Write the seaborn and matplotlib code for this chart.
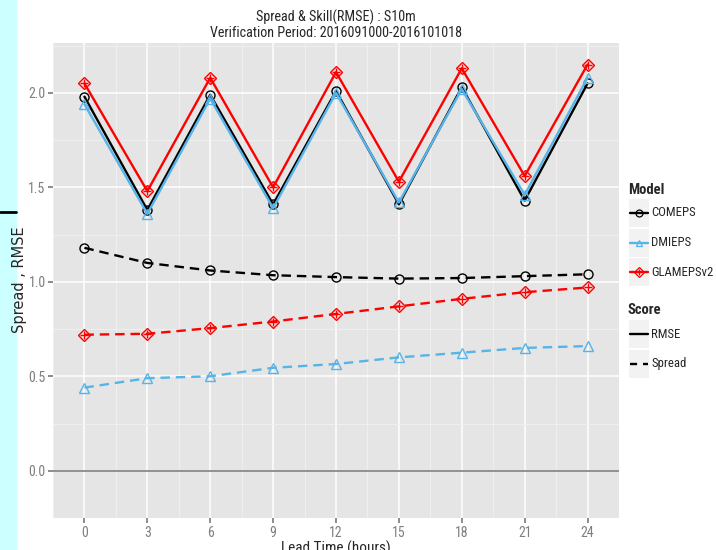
"""
Spread & Skill (RMSE) for S10m - ggplot style recreation
"""
import pandas as pd
import matplotlib
matplotlib.use("Agg")
import matplotlib.pyplot as plt
from matplotlib import font_manager
from matplotlib.lines import Line2D
from matplotlib.patches import Rectangle
import seaborn as sns

LEAD = [0, 3, 6, 9, 12, 15, 18, 21, 24]
MODELS = ["COMEPS", "DMIEPS", "GLAMEPSv2"]
SCORES = ["RMSE", "Spread"]

RMSE_COMEPS = [1.98, 1.38, 1.99, 1.41, 2.01, 1.41, 2.03, 1.43, 2.05]
RMSE_DMIEPS = [1.94, 1.36, 1.97, 1.39, 2.00, 1.42, 2.02, 1.46, 2.08]
RMSE_GLAMEPS = [2.05, 1.48, 2.08, 1.50, 2.11, 1.53, 2.13, 1.56, 2.15]

SPREAD_COMEPS = [1.18, 1.10, 1.06, 1.035, 1.025, 1.017, 1.02, 1.03, 1.04]
SPREAD_DMIEPS = [0.44, 0.49, 0.50, 0.545, 0.565, 0.60, 0.625, 0.65, 0.66]
SPREAD_GLAMEPS = [0.72, 0.725, 0.755, 0.79, 0.83, 0.87, 0.91, 0.945, 0.97]

COLORS = {"COMEPS": "#000000", "DMIEPS": "#56B4E9", "GLAMEPSv2": "#FF0000"}
MARKERS = {"COMEPS": "o", "DMIEPS": "^", "GLAMEPSv2": "D"}
DASHES = {"RMSE": "", "Spread": (4, 2.5)}

W, H = 716, 550


def fx(px):
    return px / W


def fy(py):
    return 1 - py / H


def pick_font():
    # look for a narrow sans (the original was drawn in Helvetica Narrow-ish)
    names = {f.name for f in font_manager.fontManager.ttflist}
    for cand in ["Liberation Sans Narrow", "Roboto Condensed", "Open Sans Condensed",
                 "Arial Narrow", "Nimbus Sans Narrow"]:
        if cand in names:
            return cand, True
    return "Liberation Sans", False


def build_df():
    vals = {
        ("COMEPS", "RMSE"): RMSE_COMEPS, ("DMIEPS", "RMSE"): RMSE_DMIEPS,
        ("GLAMEPSv2", "RMSE"): RMSE_GLAMEPS, ("COMEPS", "Spread"): SPREAD_COMEPS,
        ("DMIEPS", "Spread"): SPREAD_DMIEPS, ("GLAMEPSv2", "Spread"): SPREAD_GLAMEPS,
    }
    rows = []
    for (m, s), v in vals.items():
        for lt, y in zip(LEAD, v):
            rows.append({"lead": lt, "value": y, "Model": m, "Score": s})
    return pd.DataFrame(rows)


def plot(df):
    sns.set_theme(style="darkgrid")
    font, narrow = pick_font()
    plt.rcParams["font.family"] = [font, "DejaVu Sans"]
    k = 1.0 if narrow else 0.85   # shrink text a bit when no narrow face exists

    fig = plt.figure(figsize=(W / 100, H / 100), dpi=100)
    fig.patch.set_facecolor("white")
    ax = fig.add_axes([fx(53), fy(518), fx(619) - fx(53), fy(43) - fy(518)])
    ax.set_facecolor("#E5E5E5")

    for m in MODELS:
        sub = df[df["Model"] == m]
        sns.lineplot(data=sub, x="lead", y="value", style="Score", dashes=DASHES,
                     color=COLORS[m], marker=MARKERS[m], markersize=6.5 if m != "DMIEPS" else 7,
                     mfc="none", mec=COLORS[m], mew=1.0, linewidth=1.7,
                     legend=False, ax=ax, zorder=3)
    glam = df[df["Model"] == "GLAMEPSv2"]
    sns.scatterplot(data=glam, x="lead", y="value", marker="+", color=COLORS["GLAMEPSv2"],
                    s=40, linewidth=1.0, legend=False, ax=ax, zorder=4)

    ax.axhline(0, color="#7F7F7F", lw=1.2, zorder=2)

    ax.set_xlim(-1.21, 25.2)
    ax.set_ylim(-0.105, 2.264)
    ax.set_xticks(LEAD)
    ax.set_xticks([1.5 + 3 * i for i in range(-1, 9)], minor=True)
    ax.set_yticks([0.0, 0.5, 1.0, 1.5, 2.0])
    ax.set_yticks([-0.25, 0.25, 0.75, 1.25, 1.75, 2.25], minor=True)
    ax.set_yticklabels(["0.0", "0.5", "1.0", "1.5", "2.0"])
    ax.grid(which="major", color="white", lw=1.1)
    ax.grid(which="minor", color="#F2F2F2", lw=0.6)
    for sp in ax.spines.values():
        sp.set_visible(False)
    ax.tick_params(which="major", length=3.5, color="#7F7F7F", labelsize=10 * k,
                   labelcolor="#7F7F7F", pad=1.8)
    ax.tick_params(axis="x", which="major", pad=2.5)
    ax.tick_params(which="minor", length=0)
    ax.tick_params(axis="both", which="major", left=True, bottom=True)

    ax.set_xlabel("Lead Time (hours)", fontsize=11 * k)
    ax.xaxis.set_label_coords(0.5, -0.048, transform=ax.transAxes)
    ax.xaxis.label.set_va("top")
    ax.set_ylabel("Spread , RMSE", fontsize=10.5, family="DejaVu Sans")
    ax.yaxis.set_label_coords(fx(27), fy(280), transform=fig.transFigure)
    fig.text(fx(336), fy(17), "Spread & Skill(RMSE) : S10m", fontsize=10.2 * k,
             ha="center", va="center")
    fig.text(fx(336), fy(33), "Verification Period: 2016091000-2016101018",
             fontsize=10.2 * k, ha="center", va="center")

    # left cyan strip and black mark
    fig.add_artist(Rectangle((0, 0), fx(16), 1, transform=fig.transFigure,
                             color="#CCFFFF", zorder=0))
    fig.add_artist(Line2D([0, fx(16)], [fy(212), fy(212)], transform=fig.transFigure,
                          color="black", lw=2))

    # manual ggplot-like legends
    lab_size = 9.2 if narrow else 8.0

    def legend_block(title, title_y, entries, y0):
        fig.text(fx(628), fy(title_y), title, fontsize=10.5 * k, fontweight="bold",
                 va="center", ha="left")
        for i, (lab, kw, mk) in enumerate(entries):
            yc = y0 + i * 29.5
            fig.add_artist(Rectangle((fx(629), fy(yc + 14)), fx(20), fy(yc - 14) - fy(yc + 14),
                                     transform=fig.transFigure, color="#F2F2F2", lw=0))
            fig.add_artist(Line2D([fx(630), fx(648)], [fy(yc), fy(yc)],
                                  transform=fig.transFigure, **kw))
            if mk:
                fig.add_artist(Line2D([fx(639)], [fy(yc)], transform=fig.transFigure,
                                      marker=mk, mfc="none", mec=kw["color"], ms=5,
                                      mew=0.9, ls="none"))
                if mk == "D":
                    fig.add_artist(Line2D([fx(639)], [fy(yc)], transform=fig.transFigure,
                                          marker="+", color=kw["color"], ms=5, mew=0.9,
                                          ls="none"))
            fig.text(fx(651), fy(yc), lab, fontsize=lab_size, va="center", ha="left")

    model_entries = [(m, dict(color=COLORS[m], lw=1.7), MARKERS[m]) for m in MODELS]
    score_entries = [("RMSE", dict(color="black", lw=1.7), None),
                     ("Spread", dict(color="black", lw=1.7, ls=(0, (3, 2.5))), None)]
    legend_block("Model", 190, model_entries, 213)
    legend_block("Score", 310, score_entries, 334)

    plt.savefig("out.png", dpi=100)


if __name__ == "__main__":
    plot(build_df())
